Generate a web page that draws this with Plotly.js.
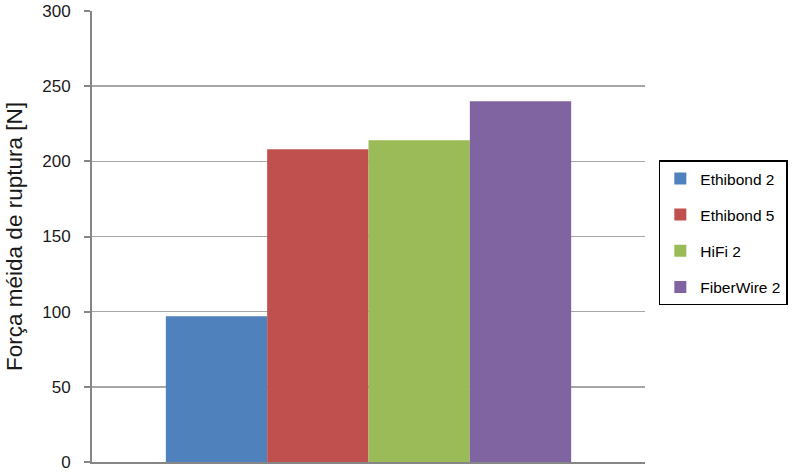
<!DOCTYPE html>
<html>
<head>
<meta charset="utf-8">
<script src="https://cdn.plot.ly/plotly-3.0.1.min.js"></script>
<style>html,body{margin:0;padding:0;background:#fff;}#chart{width:800px;height:472px;}</style>
</head>
<body>
<div id="chart"></div>
<script>
var seriesNames = ["Ethibond 2", "Ethibond 5", "HiFi 2", "FiberWire 2"];
var seriesValues = [97, 208, 214, 240];
var seriesColors = ["#4F81BD", "#C0504D", "#9BBB59", "#8064A2"];
var category = [""];
var yTicks = [0, 50, 100, 150, 200, 250, 300];

var traces = seriesNames.map(function (name, i) {
  return {
    type: "bar",
    name: name,
    x: category,
    y: [seriesValues[i]],
    legendgroup: "g" + i,
    marker: { color: seriesColors[i], line: { width: 0 } },
    hoverinfo: "name+y"
  };
});

var layout = {
  width: 800,
  height: 472,
  margin: { l: 92, r: 155, t: 11, b: 10 },
  paper_bgcolor: "#ffffff",
  plot_bgcolor: "#ffffff",
  font: { family: "Liberation Sans, Arial, sans-serif", color: "#1a1a1a" },
  barmode: "group",
  bargap: 0.267,
  bargroupgap: 0,
  showlegend: true,
  legend: {
    x: 1.025, xanchor: "left",
    y: 0.508, yanchor: "middle",
    bordercolor: "#000000", borderwidth: 1.5,
    bgcolor: "#ffffff",
    font: { size: 15.5, family: "Liberation Sans, Arial, sans-serif", color: "#000" },
    tracegroupgap: 13,
    traceorder: "grouped"
  },
  xaxis: {
    showticklabels: false,
    ticks: "",
    showgrid: false,
    showline: true,
    linecolor: "#868686",
    linewidth: 2,
    zeroline: false,
    fixedrange: true
  },
  yaxis: {
    range: [0, 300],
    tickvals: yTicks,
    ticktext: yTicks.map(String),
    ticks: "outside",
    ticklen: 6,
    tickwidth: 2,
    tickcolor: "#868686",
    ticklabelstandoff: 10,
    tickfont: { size: 17, color: "#1a1a1a" },
    showgrid: true,
    gridcolor: "#a6a6a6",
    gridwidth: 1.5,
    showline: true,
    linecolor: "#868686",
    linewidth: 2,
    zeroline: false,
    title: { text: "Força méida de ruptura [N]", font: { size: 22.5, color: "#1a1a1a" }, standoff: 13 },
    automargin: false,
    fixedrange: true
  }
};

Plotly.newPlot("chart", traces, layout, { displayModeBar: false, staticPlot: true });
</script>
</body>
</html>
